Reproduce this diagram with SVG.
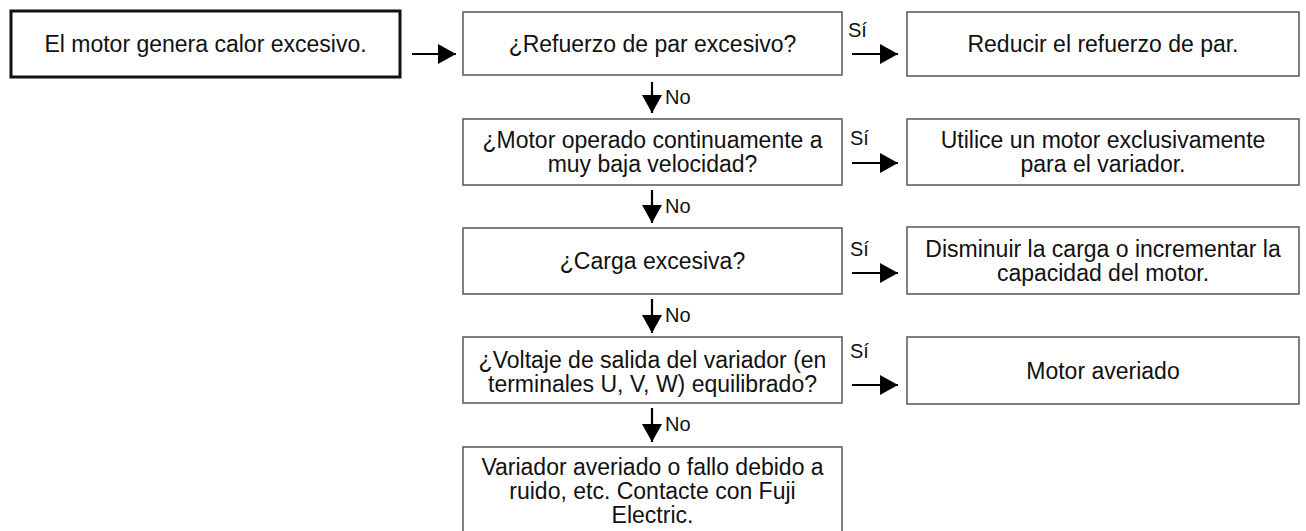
<svg xmlns="http://www.w3.org/2000/svg" width="1306" height="531" viewBox="0 0 1306 531">
<style>
.box{fill:#fff;stroke:#555;stroke-width:1.5}
.start{fill:#fff;stroke:#111;stroke-width:3}
.t{font-family:"Liberation Sans",Arial,sans-serif;font-size:23px;fill:#111;text-anchor:middle}
.lbl{font-family:"Liberation Sans",Arial,sans-serif;font-size:20px;fill:#111}
.conn{stroke:#000;stroke-width:2.2;fill:none;marker-end:url(#ah)}
</style>
<defs>
<marker id="ah" markerUnits="userSpaceOnUse" markerWidth="18" markerHeight="20" refX="18" refY="10" orient="auto" viewBox="0 0 18 20">
<path d="M0,0 L18,10 L0,20 Z" fill="#000"/>
</marker>
</defs>
<g id="start">
<rect class="start" x="11" y="11" width="389" height="66"/>
<text class="t" x="205.5" y="52">El motor genera calor excesivo.</text>
</g>
<g id="q1">
<rect class="box" x="463" y="12" width="379" height="63"/>
<text class="t" x="652.5" y="52">¿Refuerzo de par excesivo?</text>
</g>
<g id="a1">
<rect class="box" x="907" y="12" width="392" height="64"/>
<text class="t" x="1103" y="52">Reducir el refuerzo de par.</text>
</g>
<g id="q2">
<rect class="box" x="463" y="119" width="379" height="66"/>
<text class="t" x="652.5" y="148">¿Motor operado continuamente a</text>
<text class="t" x="652.5" y="172">muy baja velocidad?</text>
</g>
<g id="a2">
<rect class="box" x="907" y="119" width="392" height="66"/>
<text class="t" x="1103" y="148">Utilice un motor exclusivamente</text>
<text class="t" x="1103" y="172">para el variador.</text>
</g>
<g id="q3">
<rect class="box" x="463" y="228" width="379" height="66"/>
<text class="t" x="652.5" y="269">¿Carga excesiva?</text>
</g>
<g id="a3">
<rect class="box" x="907" y="227" width="392" height="67"/>
<text class="t" x="1103" y="257">Disminuir la carga o incrementar la</text>
<text class="t" x="1103" y="281">capacidad del motor.</text>
</g>
<g id="q4">
<rect class="box" x="463" y="337" width="379" height="66"/>
<text class="t" x="652.5" y="368">¿Voltaje de salida del variador (en</text>
<text class="t" x="652.5" y="392">terminales U, V, W) equilibrado?</text>
</g>
<g id="a4">
<rect class="box" x="907" y="337" width="392" height="67"/>
<text class="t" x="1103" y="379">Motor averiado</text>
</g>
<g id="r5">
<rect class="box" x="463" y="447" width="379" height="100"/>
<text class="t" x="652.5" y="475">Variador averiado o fallo debido a</text>
<text class="t" x="652.5" y="499">ruido, etc. Contacte con Fuji</text>
<text class="t" x="652.5" y="523">Electric.</text>
</g>
<g id="connectors">
<line class="conn" x1="412" y1="54" x2="456" y2="54"/>
<line class="conn" x1="852" y1="54" x2="898" y2="54"/>
<line class="conn" x1="852" y1="163" x2="898" y2="163"/>
<line class="conn" x1="852" y1="273" x2="898" y2="273"/>
<line class="conn" x1="852" y1="385" x2="898" y2="385"/>
<line class="conn" x1="652" y1="82" x2="652" y2="113"/>
<line class="conn" x1="652" y1="190" x2="652" y2="223"/>
<line class="conn" x1="652" y1="299" x2="652" y2="333"/>
<line class="conn" x1="652" y1="408" x2="652" y2="442"/>
<text class="lbl" x="848" y="37">Sí</text>
<text class="lbl" x="850" y="145">Sí</text>
<text class="lbl" x="850" y="256">Sí</text>
<text class="lbl" x="850" y="358">Sí</text>
<text class="lbl" x="665" y="104">No</text>
<text class="lbl" x="665" y="213">No</text>
<text class="lbl" x="665" y="322">No</text>
<text class="lbl" x="665" y="431">No</text>
</g>
</svg>
